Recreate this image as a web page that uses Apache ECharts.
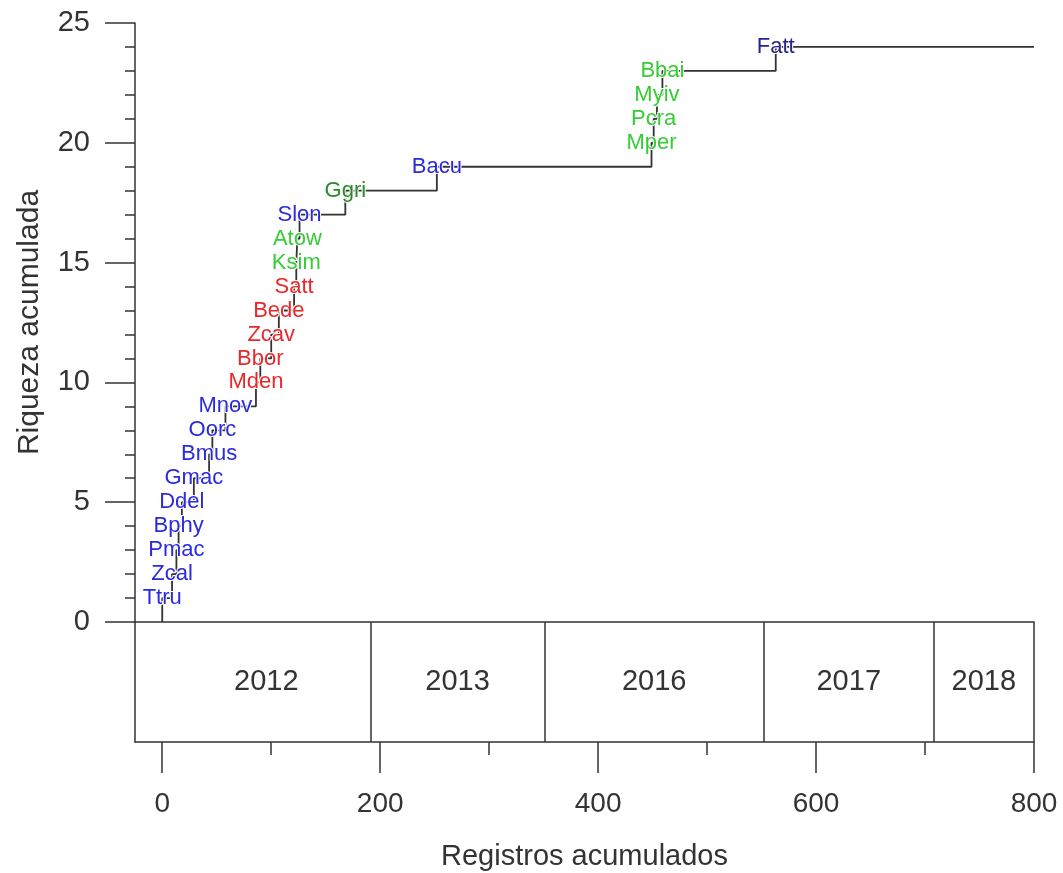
<!DOCTYPE html>
<html>
<head>
<meta charset="utf-8">
<script src="https://cdn.jsdelivr.net/npm/echarts@6/dist/echarts.min.js"></script>
<style>
html,body{margin:0;padding:0;background:#fff;}
#chart{width:1063px;height:873px;}
</style>
</head>
<body>
<div id="chart"></div>
<script>
// Species in order of first record
const species = ['Ttru','Zcal','Pmac','Bphy','Ddel','Gmac','Bmus','Oorc','Mnov','Mden','Bbor','Zcav','Bede','Satt','Ksim','Atow','Slon','Ggri','Bacu','Mper','Pcra','Myiv','Bbai','Fatt'];
// Accumulated records at which each species was added
const recordsAtAddition = [0,9,13,15,18,29,43,46,58,86,90,100,107,121,123,124,126,168,252,449,451,454,459,563];
// Cumulative richness after each addition
const richness = [1,2,3,4,5,6,7,8,9,10,11,12,13,14,15,16,17,18,19,20,21,22,23,24];
// Group of each species (for label colour)
const speciesGroup = ['b','b','b','b','b','b','b','b','b','r','r','r','r','r','g','g','b','dg','b','g','g','g','g','n'];
const totalRecords = 800;
// Year blocks (accumulated record boundaries)
const years = ['2012','2013','2016','2017','2018'];
const yearStart = [0,191,351,552,708];
const yearEnd = [191,351,552,708,800];
// Axis ticks
const xTicks = [0,200,400,600,800];
const xMinorTicks = [100,300,500,700];

const groupColor = {b:'#2a2ae0', r:'#e8282a', g:'#36cc36', dg:'#2a8a2a', n:'#262688'};
const FONT = 'Liberation Sans, Arial, sans-serif';
const AX = '#333';

const stepData = [[0,0]];
recordsAtAddition.forEach((x,i)=>stepData.push([x, richness[i]]));
stepData.push([totalRecords, richness[richness.length-1]]);

const labelData = species.map((s,i)=>({
  value:[recordsAtAddition[i], richness[i]],
  name:s,
  label:{color: groupColor[speciesGroup[i]]}
}));

const yearData = years.map((y,i)=>({value:[(yearStart[i]+yearEnd[i])/2, 0.5], name:y}));

const chart = echarts.init(document.getElementById('chart'), null, {renderer:'canvas'});
chart.setOption({
  animation:false,
  backgroundColor:'#fff',
  grid:[
    {left:135, top:23, width:899, height:599},
    {left:135, top:622, width:899, height:120}
  ],
  xAxis:[
    {gridIndex:0, type:'value', min:-25, max:800, position:'bottom',
     axisLine:{show:true, lineStyle:{color:AX, width:1.5}},
     axisTick:{show:false}, axisLabel:{show:false}, splitLine:{show:false}},
    {gridIndex:1, type:'value', min:-25, max:800, position:'bottom',
     name:'Registros acumulados', nameLocation:'middle', nameGap:100,
     nameTextStyle:{fontSize:29, color:AX, fontFamily:FONT},
     axisLine:{show:true, lineStyle:{color:AX, width:1.5}},
     axisTick:{show:true, length:31, customValues:xTicks, lineStyle:{color:AX, width:1.5}},
     axisLabel:{show:true, customValues:xTicks, margin:48, fontSize:28, color:AX, fontFamily:FONT},
     splitLine:{show:false}},
    {gridIndex:1, type:'value', min:-25, max:800, position:'bottom',
     axisLine:{show:false},
     axisTick:{show:true, length:13, customValues:xMinorTicks, lineStyle:{color:AX, width:1.5}},
     axisLabel:{show:false}, splitLine:{show:false}}
  ],
  yAxis:[
    {gridIndex:0, type:'value', min:0, max:25, interval:5,
     name:'Riqueza acumulada', nameLocation:'middle', nameGap:90,
     nameTextStyle:{fontSize:30, color:AX, fontFamily:FONT},
     axisLine:{show:true, onZero:false, lineStyle:{color:AX, width:1.5}},
     axisTick:{show:true, length:30, lineStyle:{color:AX, width:1.5}},
     minorTick:{show:true, splitNumber:5, length:10, lineStyle:{color:AX, width:1.5}},
     axisLabel:{margin:45, fontSize:29, color:AX, fontFamily:FONT},
     splitLine:{show:false}, minorSplitLine:{show:false}},
    {gridIndex:1, type:'value', min:0, max:1,
     axisLine:{show:true, onZero:false, lineStyle:{color:AX, width:1.5}},
     axisTick:{show:false}, axisLabel:{show:false}, splitLine:{show:false}}
  ],
  series:[
    {type:'line', xAxisIndex:0, yAxisIndex:0, data:stepData, step:'end',
     symbol:'none', lineStyle:{color:'#333', width:1.8}, z:2},
    {type:'scatter', xAxisIndex:0, yAxisIndex:0, data:labelData,
     symbolSize:0, z:5, itemStyle:{opacity:1}, emphasis:{disabled:true},
     label:{show:true, position:'inside', formatter:p=>p.name,
            fontSize:22, fontFamily:FONT, textBorderColor:'#fff', textBorderWidth:2}},
    {type:'scatter', xAxisIndex:1, yAxisIndex:1, data:yearData, symbolSize:0,
     itemStyle:{opacity:1}, emphasis:{disabled:true},
     label:{show:true, position:'inside', formatter:p=>p.name,
            fontSize:29, color:AX, fontFamily:FONT},
     markLine:{silent:true, symbol:'none', label:{show:false},
       lineStyle:{color:AX, width:1.5, type:'solid'},
       data: yearEnd.map(v=>({xAxis:v}))}}
  ]
});
</script>
</body>
</html>
